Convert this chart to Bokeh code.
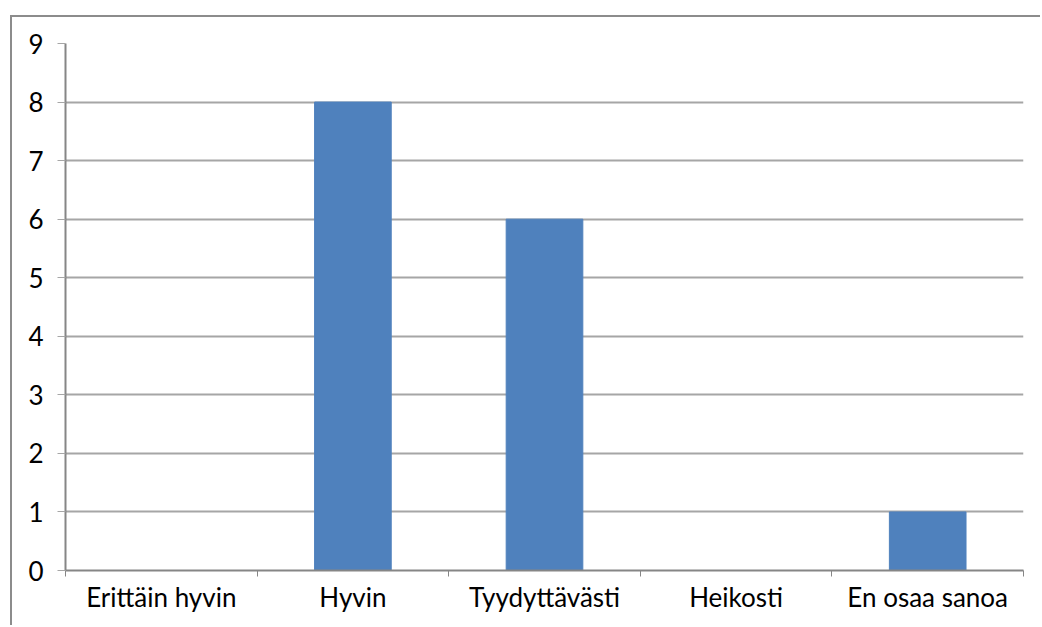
from bokeh.plotting import figure
from bokeh.models import Range1d, FixedTicker
from bokeh.embed import file_html
from bokeh.resources import INLINE

categories = ["Erittäin hyvin", "Hyvin", "Tyydyttävästi", "Heikosti", "En osaa sanoa"]
counts = [0, 8, 6, 0, 1]
y_ticks = [0, 1, 2, 3, 4, 5, 6, 7, 8, 9]

centers = [i + 0.5 for i in range(len(categories))]
bounds = list(range(len(categories) + 1))

p = figure(width=1030, height=610, output_backend="svg", toolbar_location=None,
           x_range=Range1d(0, len(categories)), y_range=Range1d(0, 9),
           min_border_left=53, min_border_right=19, min_border_top=26, min_border_bottom=57)
p.outline_line_color = None
p.background_fill_color = "white"
p.border_fill_color = "white"
# chart area frame on the left and top edges
p.styles = {"margin-left": "10px", "margin-top": "15px",
            "border-left": "2px solid #8C8C8C", "border-top": "2px solid #8C8C8C"}

p.vbar(x=centers, top=counts, width=0.4, fill_color="#4F81BD", line_color="#4F81BD")

font = "Lato"
axis_gray = "#868686"
size = "26px"

# x axis: labels at category centres, tick marks at category boundaries
xa = p.xaxis[0]
xa.ticker = FixedTicker(ticks=centers, minor_ticks=bounds)
xa.major_label_overrides = {c: lab for c, lab in zip(centers, categories)}
xa.major_tick_out = 0
xa.major_tick_in = 0
xa.minor_tick_out = 6
xa.minor_tick_in = 0
xa.minor_tick_line_color = axis_gray
xa.axis_line_color = axis_gray
xa.axis_line_width = 2
xa.major_label_standoff = 4
xa.major_label_text_font = font
xa.major_label_text_font_size = size
xa.major_label_text_color = "black"

ya = p.yaxis[0]
ya.ticker = FixedTicker(ticks=y_ticks)
ya.major_tick_out = 8
ya.major_tick_in = 0
ya.minor_tick_out = 0
ya.minor_tick_in = 0
ya.major_tick_line_color = "#A6A6A6"
ya.axis_line_color = axis_gray
ya.axis_line_width = 2
ya.major_label_standoff = 14
ya.major_label_text_font = font
ya.major_label_text_font_size = size
ya.major_label_text_color = "black"

p.xgrid.grid_line_color = None
p.ygrid.ticker = FixedTicker(ticks=y_ticks)
p.ygrid.grid_line_color = "#A6A6A6"
p.ygrid.grid_line_width = 2

open("out.html", "w").write(file_html(p, INLINE))
